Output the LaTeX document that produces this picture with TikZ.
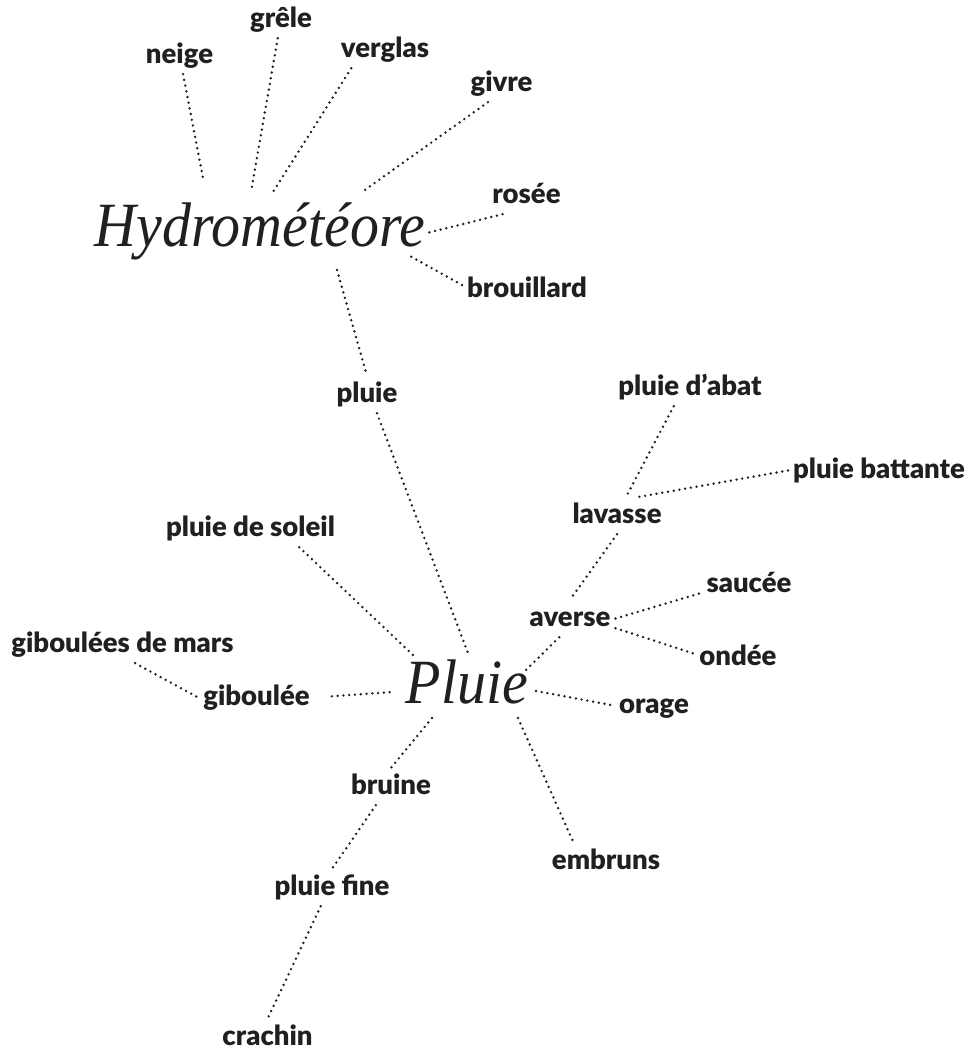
\documentclass[tikz,border=0pt]{standalone}
\usepackage{fontspec}
\setsansfont{Lato}[BoldFont={Lato Black}]
\newfontfamily\garafont[FakeStretch=0.92]{Liberation Serif}
\definecolor{inkgrey}{RGB}{35,31,32}
\usetikzlibrary{positioning,calc}

\tikzset{
  word/.style={font=\sffamily\bfseries\fontsize{27.5}{30}\selectfont,text=inkgrey,
               inner sep=5pt,text height=21pt,text depth=6pt},
  bigword/.style={font=\garafont\itshape\fontsize{63}{70}\selectfont,text=inkgrey,
                  inner sep=0pt,text height=49pt,text depth=14pt},
  dots/.style={draw=inkgrey,line width=2.7pt,line cap=round,dash pattern=on 0pt off 5.8pt}
}

\begin{document}
\begin{tikzpicture}[x=1pt,y=-1pt]
\useasboundingbox (0,0) rectangle (980,1050);

\node[bigword] (hydro) at (260,229) {Hydrométéore};
\node[bigword] (pluiemain) at (467,686) {Pluie};

\node[word] (neige) at (179.5,55.5) {neige};
\node[word] (grele) at (281,19.5) {grêle};
\node[word] (verglas) at (385,49.5) {verglas};
\node[word] (givre) at (501.5,83.5) {givre};
\node[word] (rosee) at (526.5,195.5) {rosée};
\node[word] (brouillard) at (527,289.5) {brouillard};
\node[word] (pluie) at (367,394.5) {pluie};
\node[word] (abat) at (690,387.5) {pluie d’abat};
\node[word] (battante) at (879,470.5) {pluie battante};
\node[word] (lavasse) at (617,515.5) {lavasse};
\node[word] (soleil) at (250.5,528.5) {pluie de soleil};
\node[word] (saucee) at (749,584.5) {saucée};
\node[word] (averse) at (570,618.5) {averse};
\node[word] (ondee) at (738,657.5) {ondée};
\node[word] (mars) at (122.5,644.5) {giboulées de mars};
\node[word] (giboulee) at (256.5,697.5) {giboulée};
\node[word] (orage) at (654,705.5) {orage};
\node[word] (bruine) at (391,786.5) {bruine};
\node[word] (embruns) at (606,861.5) {embruns};
\node[word] (pluiefine) at (332,887.5) {pluie fine};
\node[word] (crachin) at (267.5,1037.5) {crachin};

\draw[dots] (neige) -- ($(hydro)+(-57,-51)$);
\draw[dots] (grele) -- ($(hydro)+(-9,-37)$);
\draw[dots] (verglas.-151) -- ($(hydro)+(13,-37)$);
\draw[dots] (givre.-126) -- ($(hydro)+(102,-37)$);
\draw[dots] (rosee.-142) -- ($(hydro)+(167,4)$);
\draw[dots] (brouillard.176) -- ($(hydro)+(150,27)$);
\draw[dots] ($(hydro)+(77,41)$) -- (pluie.north);

\draw[dots] (pluie.-62) -- ($(pluiemain)+(1,-33)$);
\draw[dots] (soleil.-21) -- ($(pluiemain)+(-54,-31)$);
\draw[dots] (giboulee.east) [shorten <=17pt] -- ($(pluiemain)+(-75,6)$);
\draw[dots] (mars.-56) -- (giboulee.west);
\draw[dots] (averse.-120) -- ($(pluiemain)+(56,-13)$);
\draw[dots] ($(pluiemain)+(69,5)$) -- (orage.west);
\draw[dots] ($(pluiemain)+(51,32)$) -- (embruns.150);
\draw[dots] ($(pluiemain)+(-35,32)$) -- (bruine.north);

\draw[dots] (abat.-131) -- (lavasse.64);
\draw[dots] (battante.west) -- (lavasse.40);
\draw[dots] (lavasse.south) -- (averse.north);
\draw[dots] (averse.east) -- (saucee.-170);
\draw[dots] (averse.-12) -- (ondee.175);
\draw[dots] (bruine.-129) -- (pluiefine.north);
\draw[dots] (pluiefine.-121) -- (crachin.north);
\end{tikzpicture}
\end{document}
